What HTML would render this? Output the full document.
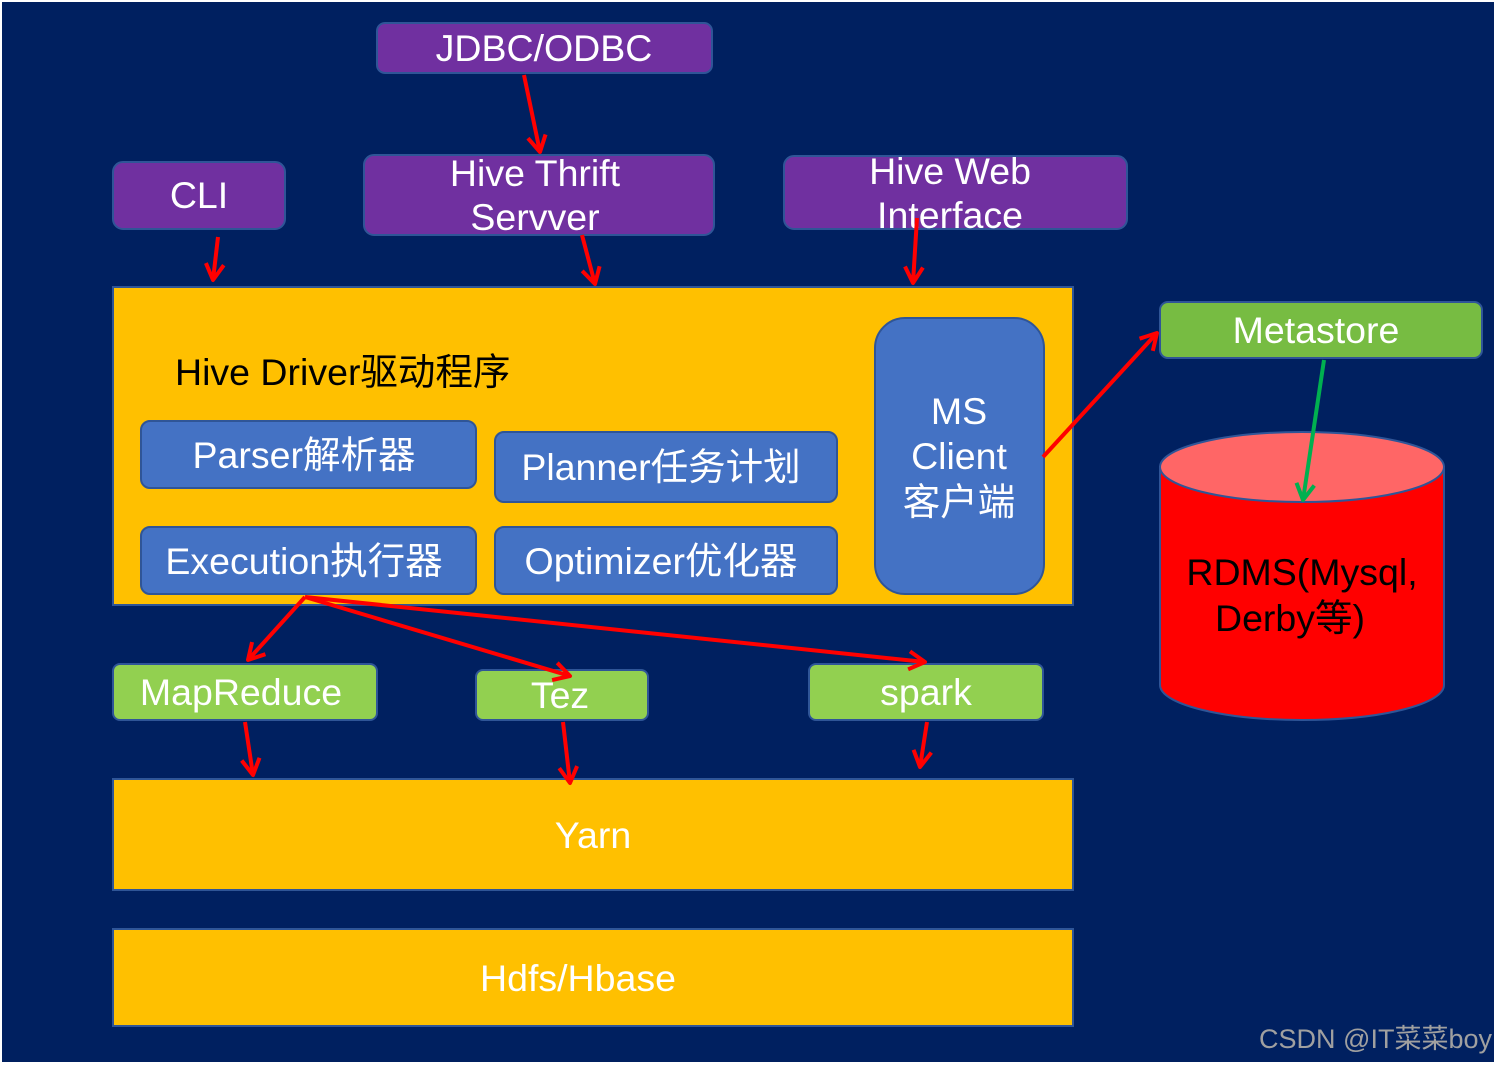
<!DOCTYPE html>
<html><head><meta charset="utf-8"><style>
html,body{margin:0;padding:0;background:#fff}
svg{display:block}
text{font-family:"Liberation Sans","Noto Sans CJK SC",sans-serif}
</style></head><body>
<svg width="1497" height="1065" viewBox="0 0 1497 1065" xmlns="http://www.w3.org/2000/svg">
<defs>
<marker id="r" viewBox="0 0 24 24" refX="20" refY="12" markerWidth="24" markerHeight="24" markerUnits="userSpaceOnUse" orient="auto">
<polyline points="4,3 20,12 4,21" fill="none" stroke="#FF0000" stroke-width="4" stroke-linejoin="round"/>
</marker>
<marker id="g" viewBox="0 0 24 24" refX="20" refY="12" markerWidth="24" markerHeight="24" markerUnits="userSpaceOnUse" orient="auto">
<polyline points="4,3 20,12 4,21" fill="none" stroke="#00B050" stroke-width="4" stroke-linejoin="round"/>
</marker>
</defs>
<rect x="2" y="2" width="1492" height="1060" fill="#002060"/>
<g stroke="#2F5597" stroke-width="2">
<rect x="377" y="23" width="335" height="50" rx="8" fill="#7030A0"/>
<rect x="113" y="162" width="172" height="67" rx="10" fill="#7030A0"/>
<rect x="364" y="155" width="350" height="80" rx="10" fill="#7030A0"/>
<rect x="784" y="156" width="343" height="73" rx="10" fill="#7030A0"/>
<rect x="113" y="287" width="960" height="318" fill="#FFC000"/>
<rect x="141" y="421" width="335" height="67" rx="9" fill="#4472C4"/>
<rect x="495" y="432" width="342" height="70" rx="9" fill="#4472C4"/>
<rect x="141" y="527" width="335" height="67" rx="9" fill="#4472C4"/>
<rect x="495" y="527" width="342" height="67" rx="9" fill="#4472C4"/>
<rect x="875" y="318" width="169" height="276" rx="30" fill="#4472C4"/>
<rect x="1160" y="302" width="322" height="56" rx="8" fill="#77BC42"/>
<rect x="113" y="664" width="264" height="56" rx="7" fill="#92D050"/>
<rect x="476" y="670" width="172" height="50" rx="7" fill="#92D050"/>
<rect x="809" y="664" width="234" height="56" rx="7" fill="#92D050"/>
<rect x="113" y="779" width="960" height="111" fill="#FFC000"/>
<rect x="113" y="929" width="960" height="97" fill="#FFC000"/>
<path d="M1160,467 L1160,685 A142,35 0 0 0 1444,685 L1444,467 Z" fill="#FF0000"/>
<ellipse cx="1302" cy="467" rx="142" ry="35" fill="#FF6666"/>
</g>
<g fill="#fff" font-size="37.5" text-anchor="middle">
<text x="544" y="61">JDBC/ODBC</text>
<text x="199" y="208">CLI</text>
<text x="535" y="186">Hive Thrift</text>
<text x="535" y="230">Servver</text>
<text x="950" y="184">Hive Web</text>
<text x="950" y="228">Interface</text>
<text x="304" y="468">Parser解析器</text>
<text x="661" y="480">Planner任务计划</text>
<text x="304" y="574">Execution执行器</text>
<text x="661" y="574">Optimizer优化器</text>
<text x="959" y="424">MS</text>
<text x="959" y="469">Client</text>
<text x="959" y="515">客户端</text>
<text x="1316" y="343">Metastore</text>
<text x="241" y="705">MapReduce</text>
<text x="560" y="708">Tez</text>
<text x="926" y="705">spark</text>
<text x="593" y="848">Yarn</text>
<text x="578" y="991">Hdfs/Hbase</text>
</g>
<text x="175" y="385" font-size="37.5" fill="#000">Hive Driver驱动程序</text>
<text x="1302" y="585" font-size="37.5" fill="#000" text-anchor="middle">RDMS(Mysql,</text>
<text x="1290" y="631" font-size="37.5" fill="#000" text-anchor="middle">Derby等)</text>
<text x="1492" y="1048" font-size="27" fill="#A0A0A0" text-anchor="end">CSDN @IT菜菜boy</text>
<g stroke="#FF0000" stroke-width="4" fill="none" marker-end="url(#r)">
<line x1="524" y1="75" x2="540" y2="152"/>
<line x1="218" y1="237" x2="213" y2="280"/>
<line x1="582" y1="235" x2="595" y2="284"/>
<line x1="917" y1="218" x2="913" y2="283"/>
<line x1="305" y1="597" x2="248" y2="660"/>
<line x1="305" y1="597" x2="570" y2="676"/>
<line x1="305" y1="597" x2="925" y2="662"/>
<line x1="1043" y1="457" x2="1157" y2="333"/>
<line x1="245" y1="722" x2="253" y2="775"/>
<line x1="563" y1="722" x2="570" y2="783"/>
<line x1="927" y1="722" x2="920" y2="767"/>
</g>
<line x1="1324" y1="360" x2="1303" y2="500" stroke="#00B050" stroke-width="4" marker-end="url(#g)"/>
</svg>
</body></html>
